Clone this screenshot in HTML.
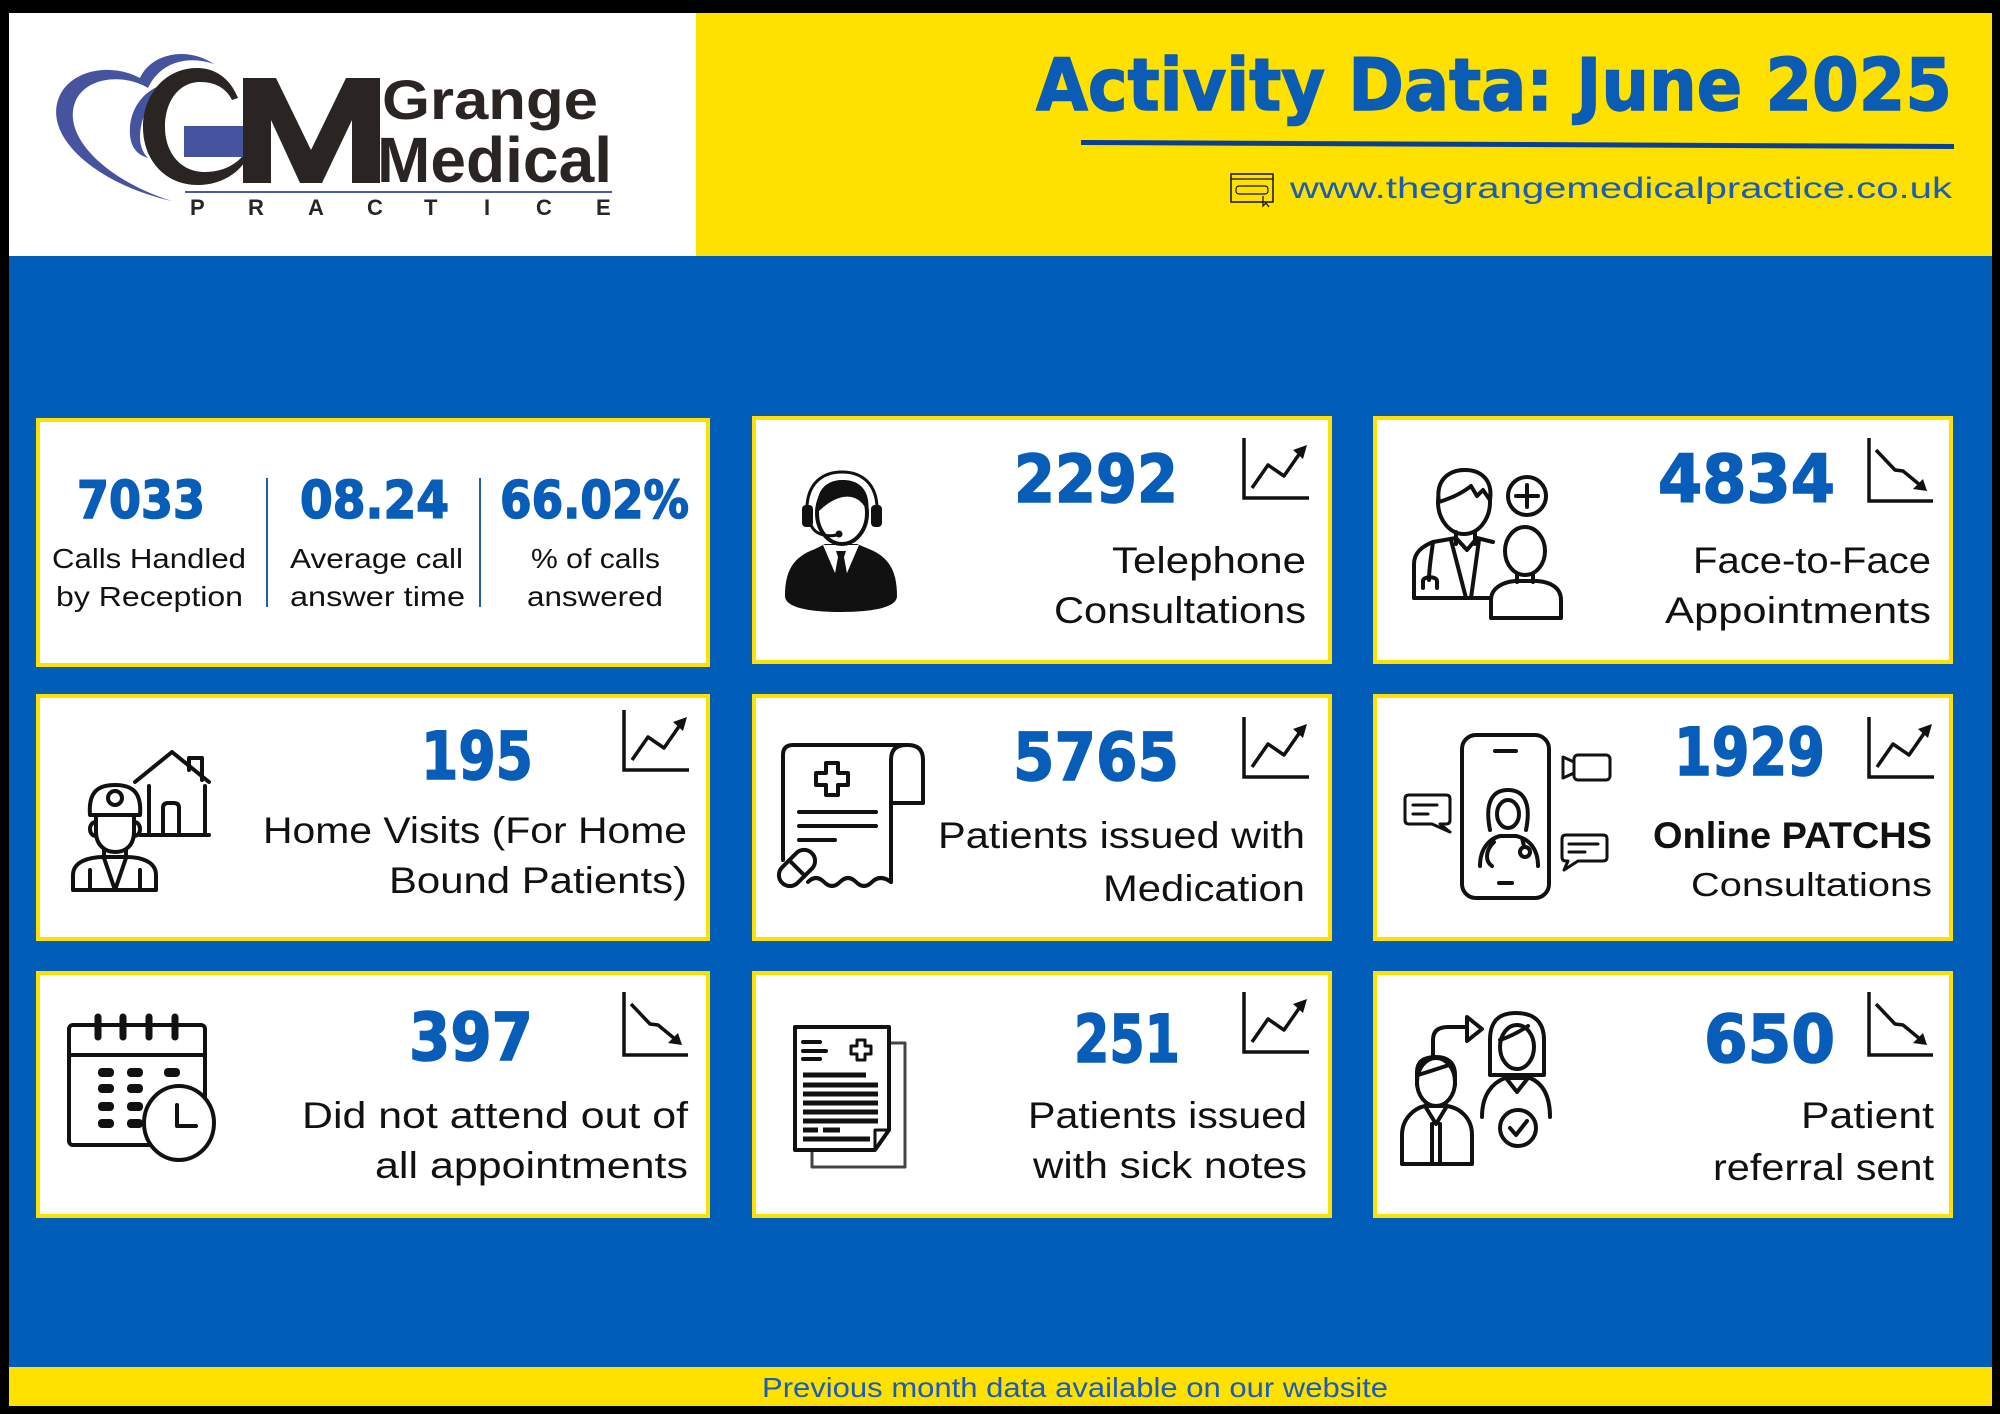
<!DOCTYPE html>
<html><head><meta charset="utf-8"><style>
html,body{margin:0;padding:0;background:#000;}
svg{display:block;}
.num{font-family:"DejaVu Sans","Liberation Sans",sans-serif;font-weight:bold;fill:#085DB9;stroke:#085DB9;stroke-width:1.6;}
.lab{font-family:"Liberation Sans",sans-serif;fill:#111;}
.ic{fill:none;stroke:#111;stroke-width:4;stroke-linecap:round;stroke-linejoin:round;}
</style></head><body>
<svg width="2000" height="1414" viewBox="0 0 2000 1414" xmlns="http://www.w3.org/2000/svg">
<rect x="0" y="0" width="2000" height="1414" fill="#000"/>
<rect x="9" y="13" width="688" height="243" fill="#fff"/>
<rect x="696" y="13" width="1296" height="243" fill="#FFE100"/>
<rect x="9" y="256" width="1983" height="1111" fill="#005EB8"/>
<rect x="9" y="1367" width="1983" height="39" fill="#FFE100"/>

<!-- LOGO -->
<path d="M172,201 C100,185 45,140 58,100 C68,70 110,62 140,78 C150,55 185,45 214,64 C188,55 160,62 148,88 C125,74 88,76 76,100 C60,135 105,180 172,201 Z" fill="#46539F"/>
<path d="M184,82 C150,80 128,105 130,135 C131,148 138,155 148,158 C140,150 138,138 142,122 C148,100 165,88 184,82 Z" fill="#46539F"/>
<path d="M238,98 C230,78 215,68 197,68 C165,68 143,95 143,127 C143,160 165,185 198,185 C222,185 240,172 247,158 L247,150 C238,165 222,172 205,172 C180,172 165,152 165,127 C165,100 180,82 200,82 C215,82 226,88 232,100 Z" fill="#2A2523"/>
<rect x="184" y="126" width="63" height="31" fill="#46539F"/>
<polygon points="243,183 243,78 276,78 311,150 346,78 380,78 380,183 352,183 352,120 322,183 300,183 271,120 271,183" fill="#2A2523"/>
<text x="382" y="119" font-family="Liberation Sans,sans-serif" font-weight="bold" font-size="56" fill="#2A2523" textLength="216" lengthAdjust="spacingAndGlyphs">Grange</text>
<text x="377" y="182" font-family="Liberation Sans,sans-serif" font-weight="bold" font-size="64" fill="#2A2523" textLength="235" lengthAdjust="spacingAndGlyphs">Medical</text>
<line x1="185" y1="192" x2="612" y2="192" stroke="#4A5AA0" stroke-width="2"/>
<g font-family="Liberation Sans,sans-serif" font-weight="bold" font-size="22" fill="#2A2523">
<text x="190" y="215">P</text><text x="248" y="215">R</text><text x="308" y="215">A</text><text x="367" y="215">C</text><text x="424" y="215">T</text><text x="484" y="215">I</text><text x="536" y="215">C</text><text x="596" y="215">E</text>
</g>

<!-- HEADER -->
<text x="1036" y="110" font-family="DejaVu Sans,Liberation Sans,sans-serif" font-weight="bold" font-size="72" fill="#0A5CB5" stroke="#0A5CB5" stroke-width="1.5" textLength="916" lengthAdjust="spacingAndGlyphs">Activity Data: June 2025</text>
<polygon points="1081,140 1954,144 1954,149 1081,145" fill="#0B3F94"/>
<g>
<rect x="1231" y="174" width="42" height="28" fill="#FFE100" stroke="#111" stroke-width="1.5"/>
<line x1="1231" y1="179" x2="1273" y2="179" stroke="#111" stroke-width="1.2"/>
<rect x="1236" y="186" width="32" height="8" rx="3" fill="#FFE100" stroke="#111" stroke-width="1.2"/>
<path d="M1263,196 L1263,206 L1266,203 L1269,207" fill="none" stroke="#111" stroke-width="1.2"/>
</g>
<text x="1290" y="198" font-family="Liberation Sans,sans-serif" font-size="30" fill="#1B5DB5" textLength="662" lengthAdjust="spacingAndGlyphs">www.thegrangemedicalpractice.co.uk</text>

<!-- CARDS -->
<g fill="#FFE100">
<rect x="36" y="418" width="674" height="249"/>
<rect x="752" y="416" width="580" height="248"/>
<rect x="1373" y="416" width="580" height="248"/>
<rect x="36" y="694" width="674" height="247"/>
<rect x="752" y="694" width="580" height="247"/>
<rect x="1373" y="694" width="580" height="247"/>
<rect x="36" y="971" width="674" height="247"/>
<rect x="752" y="971" width="580" height="247"/>
<rect x="1373" y="971" width="580" height="247"/>
</g>
<g fill="#fff">
<rect x="40" y="422" width="666" height="241"/>
<rect x="756" y="420" width="572" height="240"/>
<rect x="1377" y="420" width="572" height="240"/>
<rect x="40" y="698" width="666" height="239"/>
<rect x="756" y="698" width="572" height="239"/>
<rect x="1377" y="698" width="572" height="239"/>
<rect x="40" y="975" width="666" height="239"/>
<rect x="756" y="975" width="572" height="239"/>
<rect x="1377" y="975" width="572" height="239"/>
</g>

<!-- Card 1 -->
<text class="num" x="77" y="518" font-size="52" textLength="128" lengthAdjust="spacingAndGlyphs">7033</text>
<text class="num" x="300" y="518" font-size="52" textLength="149" lengthAdjust="spacingAndGlyphs">08.24</text>
<text class="num" x="500" y="518" font-size="52" textLength="189" lengthAdjust="spacingAndGlyphs">66.02%</text>
<line x1="267" y1="478" x2="267" y2="607" stroke="#1F5FAE" stroke-width="2"/>
<line x1="480" y1="478" x2="480" y2="607" stroke="#1F5FAE" stroke-width="2"/>
<g class="lab" font-size="28">
<text x="52" y="568" textLength="194" lengthAdjust="spacingAndGlyphs">Calls Handled</text>
<text x="56" y="606" textLength="187" lengthAdjust="spacingAndGlyphs">by Reception</text>
<text x="290" y="568" textLength="173" lengthAdjust="spacingAndGlyphs">Average call</text>
<text x="290" y="606" textLength="175" lengthAdjust="spacingAndGlyphs">answer time</text>
<text x="531" y="568" textLength="129" lengthAdjust="spacingAndGlyphs">% of calls</text>
<text x="527" y="606" textLength="136" lengthAdjust="spacingAndGlyphs">answered</text>
</g>

<!-- Numbers -->
<text class="num" x="1014" y="502" font-size="66" textLength="164" lengthAdjust="spacingAndGlyphs">2292</text>
<text class="num" x="1658" y="502" font-size="66" textLength="177" lengthAdjust="spacingAndGlyphs">4834</text>
<text class="num" x="421" y="779" font-size="66" textLength="112" lengthAdjust="spacingAndGlyphs">195</text>
<text class="num" x="1013" y="780" font-size="66" textLength="166" lengthAdjust="spacingAndGlyphs">5765</text>
<text class="num" x="1674" y="775" font-size="66" textLength="151" lengthAdjust="spacingAndGlyphs">1929</text>
<text class="num" x="409" y="1060" font-size="66" textLength="124" lengthAdjust="spacingAndGlyphs">397</text>
<text class="num" x="1074" y="1062" font-size="66" textLength="106" lengthAdjust="spacingAndGlyphs">251</text>
<text class="num" x="1704" y="1062" font-size="66" textLength="131" lengthAdjust="spacingAndGlyphs">650</text>

<!-- Labels -->
<g class="lab" font-size="37">
<text x="1112" y="573" textLength="194" lengthAdjust="spacingAndGlyphs">Telephone</text>
<text x="1054" y="623" textLength="252" lengthAdjust="spacingAndGlyphs">Consultations</text>
<text x="1693" y="573" textLength="238" lengthAdjust="spacingAndGlyphs">Face-to-Face</text>
<text x="1665" y="623" textLength="266" lengthAdjust="spacingAndGlyphs">Appointments</text>
<text x="263" y="843" textLength="424" lengthAdjust="spacingAndGlyphs">Home Visits (For Home</text>
<text x="389" y="893" textLength="298" lengthAdjust="spacingAndGlyphs">Bound Patients)</text>
<text x="938" y="848" textLength="367" lengthAdjust="spacingAndGlyphs">Patients issued with</text>
<text x="1103" y="901" textLength="202" lengthAdjust="spacingAndGlyphs">Medication</text>
<text x="1653" y="848" font-weight="bold" textLength="279" lengthAdjust="spacingAndGlyphs">Online PATCHS</text>
<text x="1691" y="896" font-size="33" textLength="241" lengthAdjust="spacingAndGlyphs">Consultations</text>
<text x="302" y="1128" textLength="386" lengthAdjust="spacingAndGlyphs">Did not attend out of</text>
<text x="375" y="1178" textLength="313" lengthAdjust="spacingAndGlyphs">all appointments</text>
<text x="1028" y="1128" textLength="279" lengthAdjust="spacingAndGlyphs">Patients issued</text>
<text x="1033" y="1178" textLength="274" lengthAdjust="spacingAndGlyphs">with sick notes</text>
<text x="1801" y="1128" textLength="133" lengthAdjust="spacingAndGlyphs">Patient</text>
<text x="1713" y="1180" textLength="221" lengthAdjust="spacingAndGlyphs">referral sent</text>
</g>

<!-- Trend icons -->
<defs>
<g id="up">
<path d="M0,0 V60 H65" fill="none" stroke="#111" stroke-width="3.5"/>
<path d="M8,50 L24,27 L40,38 L56,15" fill="none" stroke="#111" stroke-width="3.5" stroke-linejoin="round"/>
<polygon points="63,7 49,12 59,21" fill="#111"/>
</g>
<g id="down">
<path d="M0,0 V63 H64" fill="none" stroke="#111" stroke-width="3.5"/>
<path d="M7,12 L26,32 L34,33 L51,47" fill="none" stroke="#111" stroke-width="3.5" stroke-linejoin="round"/>
<polygon points="58,53 44,51 54,41" fill="#111"/>
</g>
</defs>
<use href="#up" x="1244" y="438"/>
<use href="#down" x="1869" y="438"/>
<use href="#up" x="624" y="710"/>
<use href="#up" x="1244" y="717"/>
<use href="#up" x="1869" y="717"/>
<use href="#down" x="624" y="992"/>
<use href="#up" x="1244" y="992"/>
<use href="#down" x="1869" y="992"/>

<!-- Card 2 icon: call centre -->
<g transform="translate(785,471)">
<path d="M0,125 C0,100 8,86 30,78 L40,73 L72,73 L84,78 C104,86 112,100 112,125 C112,136 90,141 56,141 C22,141 0,136 0,125 Z" fill="#111"/>
<polygon points="38,74 56,116 74,74" fill="#fff"/>
<polygon points="51,80 61,80 59,86 63,108 56,116 49,108 53,86" fill="#111"/>
<ellipse cx="57" cy="42" rx="25" ry="31" fill="#fff" stroke="#111" stroke-width="4"/>
<path d="M32,42 C30,15 45,9 58,9 C75,9 86,20 83,42 C78,30 70,24 58,26 C48,28 40,34 32,42 Z" fill="#111"/>
<path d="M22,44 C20,10 40,1 57,1 C74,1 94,10 92,44" fill="none" stroke="#111" stroke-width="3"/>
<rect x="17" y="34" width="11" height="22" rx="4" fill="#111"/>
<rect x="86" y="34" width="11" height="22" rx="4" fill="#111"/>
<path d="M26,54 C30,64 42,66 52,64" fill="none" stroke="#111" stroke-width="3"/>
<circle cx="54" cy="63" r="3.5" fill="#111"/>
</g>

<!-- Card 3 icon: doctor + patient -->
<g transform="translate(1411,468)" class="ic">
<ellipse cx="53" cy="34" rx="26" ry="32" fill="#fff"/>
<path d="M28,34 C24,10 40,2 54,2 C70,2 82,12 79,32 L72,22 L66,28 L60,18 C50,26 40,30 28,34 Z" fill="#fff"/>
<path d="M45,64 L45,76 M64,64 L64,76"/>
<path d="M3,130 L3,96 C3,84 12,78 22,74 L45,70 L56,82 L66,70 L82,74"/>
<path d="M3,130 L78,130"/>
<path d="M40,72 L55,130 M68,72 L60,130"/>
<path d="M22,74 C20,90 18,100 18,112 M12,120 L12,113 C12,108 26,108 26,113 L26,120"/>
<circle cx="116" cy="28" r="19" fill="#fff"/>
<path d="M116,17 V39 M105,28 H127"/>
<path d="M80,150 L80,132 C80,120 92,114 104,113 L126,113 C140,114 150,120 150,132 L150,150 Z" fill="#fff"/>
<path d="M106,104 L106,114 M122,104 L122,114"/>
<ellipse cx="114" cy="83" rx="20" ry="24" fill="#fff"/>
</g>

<!-- Card 4 icon: home visit -->
<g class="ic" stroke-width="5">
<path d="M135,782 L172,752 L209,782"/>
<path d="M189,770 L189,758 L202,758 L202,780"/>
<path d="M149,786 L149,835 M205,786 L205,835 M140,835 L209,835"/>
<path d="M163,835 L163,808 Q163,803 168,803 L174,803 Q179,803 179,808 L179,835"/>
<path d="M90,815 C88,790 100,785 115,785 C130,785 142,790 140,815 Z" fill="#fff"/>
<circle cx="115" cy="798" r="7" fill="#fff"/>
<path d="M96,815 L96,832 C96,845 105,852 115,852 C126,852 134,845 134,832 L134,815"/>
<path d="M96,822 C88,822 88,836 96,836 M134,822 C142,822 142,836 134,836"/>
<path d="M104,850 L104,858 M126,850 L126,858"/>
<path d="M73,890 L73,875 C73,862 88,857 104,857 L126,857 C142,857 156,862 156,875 L156,890 Z" fill="#fff"/>
<path d="M104,858 L115,890 L126,858 M90,870 L90,890 M140,870 L140,890"/>
</g>

<!-- Card 5 icon: prescription -->
<g class="ic" stroke-width="5">
<path d="M783,860 L783,755 Q783,745 793,745 L908,745 Q923,745 923,760 L923,803 L891,803"/>
<path d="M891,882 L891,760 Q891,745 906,745"/>
<path d="M808,882 q8,-8 16,0 q8,8 16,0 q8,-8 16,0 q8,8 16,0 q8,-8 19,0"/>
<polygon points="826,763 838,763 838,773 848,773 848,785 838,785 838,795 826,795 826,785 816,785 816,773 826,773"/>
<path d="M799,812 L876,812 M799,826 L876,826 M799,840 L835,840"/>
<g transform="rotate(-45 797 868)"><rect x="776" y="857" width="42" height="22" rx="11" fill="#fff"/><path d="M797,857 L797,879"/></g>
</g>

<!-- Card 6 icon: phone -->
<g class="ic">
<rect x="1462" y="735" width="87" height="163" rx="14" fill="#fff"/>
<path d="M1495,751 L1516,751 M1499,883 L1512,883"/>
<path d="M1490,830 C1484,800 1494,790 1508,790 C1522,790 1532,800 1526,830"/>
<ellipse cx="1508" cy="814" rx="11" ry="14"/>
<path d="M1480,866 C1480,846 1492,838 1500,836 L1516,836 C1526,838 1538,846 1538,866"/>
<path d="M1494,842 C1484,852 1486,862 1492,866 M1522,838 L1524,846"/>
<circle cx="1525" cy="852" r="5"/>
<path d="M1409,795 L1446,795 Q1450,795 1450,799 L1450,820 Q1450,824 1446,824 L1440,824 L1450,832 L1432,824 L1409,824 Q1405,824 1405,820 L1405,799 Q1405,795 1409,795 Z" stroke-width="3"/>
<path d="M1413,805 L1437,805 M1413,814 L1428,814" stroke-width="3"/>
<rect x="1574" y="755" width="36" height="25" rx="4" stroke-width="3"/>
<path d="M1574,762 L1563,757 L1563,778 L1574,773" stroke-width="3"/>
<path d="M1566,835 L1603,835 Q1607,835 1607,839 L1607,857 Q1607,861 1603,861 L1578,861 L1564,870 L1568,861 L1566,861 Q1562,861 1562,857 L1562,839 Q1562,835 1566,835 Z" stroke-width="3"/>
<path d="M1569,844 L1598,844 M1569,852 L1585,852" stroke-width="3"/>
</g>

<!-- Card 7 icon: calendar -->
<g class="ic" stroke-width="6">
<rect x="69" y="1025" width="136" height="120" rx="4" fill="#fff"/>
<path d="M69,1055 L205,1055"/>
<path d="M98,1017 V1037 M123,1017 V1037 M149,1017 V1037 M175,1017 V1037" stroke-width="7"/>
</g>
<g fill="#111">
<rect x="98" y="1068" width="16" height="9" rx="4"/><rect x="127" y="1068" width="16" height="9" rx="4"/><rect x="164" y="1068" width="16" height="9" rx="4"/>
<rect x="98" y="1084" width="16" height="9" rx="4"/><rect x="127" y="1084" width="16" height="9" rx="4"/>
<rect x="98" y="1102" width="16" height="9" rx="4"/><rect x="127" y="1102" width="16" height="9" rx="4"/>
<rect x="98" y="1119" width="16" height="9" rx="4"/><rect x="127" y="1119" width="16" height="9" rx="4"/>
</g>
<g class="ic" stroke-width="7">
<ellipse cx="179" cy="1123" rx="35" ry="37" fill="#fff"/>
<path d="M177,1105 V1126 H196"/>
</g>

<!-- Card 8 icon: sick note -->
<g class="ic">
<path d="M889,1043 L905,1043 L905,1167 L812,1167 L812,1150" stroke="#444" stroke-width="3"/>
<path d="M795,1027 L889,1027 L889,1130 L875,1150 L795,1150 Z" fill="#fff"/>
<path d="M889,1130 L875,1130 L875,1150" stroke-width="3"/>
<path d="M803,1042 L820,1042 M803,1051 L826,1051 M803,1059 L820,1059" stroke-width="4"/>
<polygon points="857,1040 865,1040 865,1046 871,1046 871,1054 865,1054 865,1060 857,1060 857,1054 851,1054 851,1046 857,1046" stroke-width="3"/>
<path d="M803,1075 L866,1075 M803,1085 L878,1085 M803,1094 L878,1094 M803,1103 L878,1103 M803,1112 L878,1112 M803,1121 L878,1121 M803,1130 L818,1130 M823,1130 L840,1130 M803,1139 L870,1139" stroke-width="5" stroke-linecap="butt"/>
</g>

<!-- Card 9 icon: referral -->
<g class="ic">
<path d="M1433,1057 L1433,1040 Q1433,1027 1448,1027 L1467,1027"/>
<path d="M1467,1017 L1482,1029 L1467,1041 Z" fill="#fff"/>
<path d="M1490,1075 L1490,1040 C1490,1020 1500,1013 1516,1013 C1532,1013 1544,1020 1544,1040 L1544,1075 Z" fill="#fff"/>
<ellipse cx="1517" cy="1047" rx="17" ry="22" fill="#fff"/>
<path d="M1500,1040 C1512,1036 1522,1030 1528,1026"/>
<path d="M1482,1117 C1482,1095 1492,1083 1505,1078 L1530,1078 C1542,1083 1550,1095 1550,1117"/>
<path d="M1506,1078 L1517,1092 L1528,1078"/>
<circle cx="1518" cy="1128" r="18" fill="#fff"/>
<path d="M1510,1128 L1516,1135 L1527,1121"/>
<path d="M1417,1085 L1417,1072 C1417,1060 1426,1057 1436,1057 C1447,1057 1455,1062 1455,1075 L1455,1085"/>
<ellipse cx="1436" cy="1082" rx="19" ry="24" fill="#fff"/>
<path d="M1418,1075 C1428,1072 1440,1068 1452,1064"/>
<path d="M1402,1164 L1402,1135 C1402,1118 1415,1108 1425,1106 L1447,1106 C1460,1108 1472,1118 1472,1135 L1472,1164 Z" fill="#fff"/>
<path d="M1425,1106 L1436,1124 L1447,1106 M1432,1124 L1432,1164 M1440,1124 L1440,1164"/>
</g>

<!-- Footer -->
<text x="762" y="1397" font-family="Liberation Sans,sans-serif" font-size="28" fill="#1A5CB8" textLength="626" lengthAdjust="spacingAndGlyphs">Previous month data available on our website</text>
</svg>
</body></html>
